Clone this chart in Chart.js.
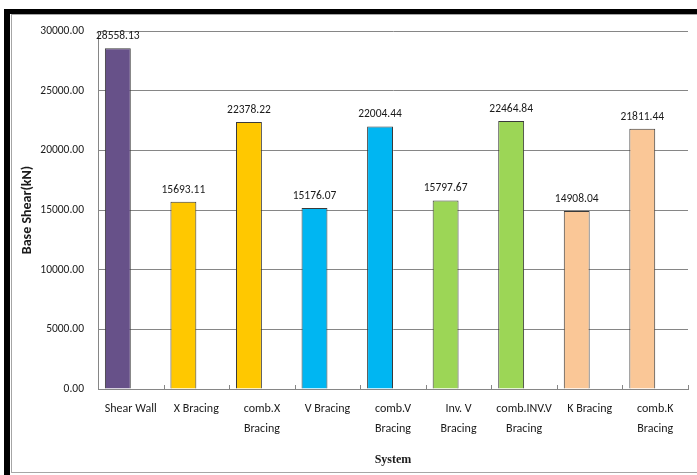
<!DOCTYPE html>
<html>
<head>
<meta charset="utf-8">
<script src="https://cdn.jsdelivr.net/npm/chart.js@4/dist/chart.umd.min.js"></script>
<style>
  html, body { margin: 0; padding: 0; background: #fff; }
  #wrap { position: relative; width: 697px; height: 475px; }
</style>
</head>
<body>
<div id="wrap"><canvas id="shearChart" width="697" height="475"></canvas></div>
<script>
// base shear per structural system
const systems = [
  ['Shear Wall'], ['X Bracing'], ['comb.X', 'Bracing'], ['V Bracing'], ['comb.V', 'Bracing'],
  ['Inv. V', 'Bracing'], ['comb.INV.V', 'Bracing'], ['K Bracing'], ['comb.K', 'Bracing']
];
const baseShear = [28558.13, 15693.11, 22378.22, 15176.07, 22004.44, 15797.67, 22464.84, 14908.04, 21811.44];
const fillColors = ['#675189', '#ffc800', '#ffc800', '#00b6f2', '#00b6f2', '#9cd656', '#9cd656', '#fac797', '#fac797'];
const yMin = 0, yMax = 30000, yStep = 5000;

const labelFont = "'Carlito', 'Liberation Sans Narrow', Lato, sans-serif";
const titleFont = "'Liberation Serif', 'DejaVu Serif', serif";

// sheet frame behind the chart
const frame = {
  id: 'frame',
  beforeDraw(chart) {
    const c = chart.ctx;
    c.save();
    c.fillStyle = '#fff';
    c.fillRect(0, 0, chart.width, chart.height);
    c.fillStyle = '#000';
    c.fillRect(4, 9, chart.width - 4, 5);
    c.fillRect(4, 9, 6, chart.height - 9);
    c.strokeStyle = '#a6a6a6';
    c.lineWidth = 1;
    c.strokeRect(11.5, 14.5, chart.width, 458);
    c.restore();
  },
  // short inward tick marks between categories
  afterDraw(chart) {
    const c = chart.ctx;
    const x = chart.scales.x;
    const yBase = chart.chartArea.bottom;
    c.save();
    c.strokeStyle = '#868686';
    c.lineWidth = 1;
    c.beginPath();
    for (let i = 0; i <= systems.length; i++) {
      const px = Math.round(x.getPixelForValue(i - 0.5)) + 0.5;
      c.moveTo(px, yBase);
      c.lineTo(px, yBase - 4);
    }
    c.stroke();
    c.restore();
  }
};

// value printed above every bar
const barValues = {
  id: 'barValues',
  afterDatasetsDraw(chart) {
    const c = chart.ctx;
    const meta = chart.getDatasetMeta(0);
    c.save();
    c.font = '11.5px ' + labelFont;
    c.fillStyle = '#1a1a1a';
    c.textAlign = 'center';
    c.textBaseline = 'alphabetic';
    meta.data.forEach((bar, i) => {
      c.fillText(baseShear[i].toFixed(2), bar.x, bar.y - 9);
    });
    c.restore();
  }
};

new Chart(document.getElementById('shearChart'), {
  type: 'bar',
  data: {
    labels: systems,
    datasets: [{
      data: baseShear,
      backgroundColor: fillColors,
      borderColor: '#3a3a3a',
      borderWidth: 1,
      categoryPercentage: 0.79,
      barPercentage: 1
    }, {
      // empty second series keeps the bars left of each category centre
      data: systems.map(() => null),
      categoryPercentage: 0.79,
      barPercentage: 1
    }]
  },
  options: {
    responsive: false,
    animation: false,
    layout: { padding: { left: 12, top: 31, right: 9, bottom: 4 } },
    plugins: { legend: { display: false }, tooltip: { enabled: false } },
    scales: {
      x: {
        grid: { display: false },
        border: { color: '#868686' },
        ticks: { color: '#1a1a1a', font: { family: labelFont, size: 12, lineHeight: 1.65 }, padding: 2, maxRotation: 0, autoSkip: false },
        title: { display: true, text: 'System', color: '#1a1a1a', font: { family: titleFont, size: 12, weight: 'bold' }, padding: { top: 6, bottom: 4 } },
        afterFit(scale) { scale.height = 475 - 389 - 4; }
      },
      y: {
        min: yMin,
        max: yMax,
        ticks: { stepSize: yStep, color: '#1a1a1a', padding: 14, font: { family: labelFont, size: 11.5 }, callback: v => v.toFixed(2) },
        grid: { color: '#868686', drawTicks: false },
        border: { color: '#868686' },
        title: { display: true, text: 'Base Shear(kN)', color: '#1a1a1a', font: { family: labelFont, size: 14, weight: 'bold' }, padding: { top: 7, bottom: 0 } },
        afterFit(scale) { scale.width = 98 - 12; }
      }
    }
  },
  plugins: [frame, barValues]
});
</script>
</body>
</html>
